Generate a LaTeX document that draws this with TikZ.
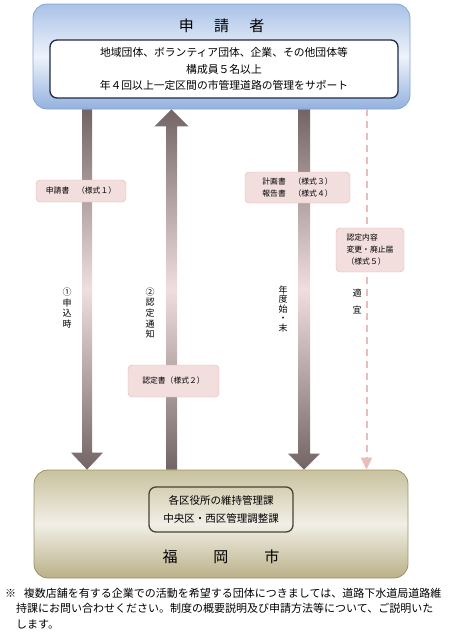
\documentclass[tikz,border=0pt]{standalone}
\usepackage{fontspec}
\setmainfont{Noto Sans CJK JP}
\usetikzlibrary{calc,arrows.meta}
\definecolor{bluetop}{HTML}{A9C2E7}
\definecolor{bluemid}{HTML}{EEF3FB}
\definecolor{bluebot}{HTML}{93B1DE}
\definecolor{blueline}{HTML}{86A4D2}
\definecolor{navy}{HTML}{1E2A44}
\definecolor{khakitop}{HTML}{C8C29E}
\definecolor{khakimid}{HTML}{F1EFE6}
\definecolor{khakibot}{HTML}{BAB088}
\definecolor{khakiline}{HTML}{9C9268}
\definecolor{olive}{HTML}{4A4431}
\definecolor{tagfill}{HTML}{F3DEDE}
\definecolor{tagline}{HTML}{DDB5B5}
\definecolor{arrowdark}{HTML}{736565}
\definecolor{arrowlight}{HTML}{F0DEDE}
\definecolor{dashpink}{HTML}{EBBCBC}
\begin{document}
\begin{tikzpicture}[x=1pt, y=-1pt,
	bigbox/.style={rounded corners=14pt, line width=0.8pt},
	innerbox/.style={draw, rounded corners=7pt, line width=1.3pt, align=center},
	tag/.style={draw=tagline, fill=tagfill, rounded corners=4pt, align=center, inner sep=2pt, font=\fontsize{7.8}{12}\selectfont},
	vlabel/.style={align=center, inner sep=0pt, font=\fontsize{9}{10.7}\selectfont},
	shaft/.style={top color=arrowdark, bottom color=arrowdark, middle color=arrowlight},
	bigtext/.style={font=\fontsize{15}{18}\selectfont}]
	\useasboundingbox (0,0) rectangle (454,640);
	% boxes
	\node[bigbox, draw=blueline, top color=bluetop, bottom color=bluebot, middle color=bluemid, minimum width=377pt, minimum height=105pt] (applicant) at (221.5,56.5) {};
	\node[bigtext] (applicanttitle) at (221.5,26) {申\hspace{1.35em}請\hspace{1.35em}者};
	\node[innerbox, draw=navy, fill=white, minimum width=348pt, minimum height=58pt, font=\fontsize{10.8}{16.5}\selectfont] (members) at (224,69) {地域団体、ボランティア団体、企業、その他団体等\\構成員５名以上\\年４回以上一定区間の市管理道路の管理をサポート};
	\node[bigbox, draw=khakiline, top color=khakitop, bottom color=khakibot, middle color=khakimid, minimum width=374pt, minimum height=108pt] (city) at (221,524) {};
	\node[innerbox, draw=olive, minimum width=144pt, minimum height=45pt, font=\fontsize{10.5}{18}\selectfont] (office) at (221,509.5) {各区役所の維持管理課\\中央区・西区管理調整課};
	\node[bigtext] (citytitle) at (221,557) {福\hspace{2.4em}岡\hspace{2.4em}市};
	% arrows
	\coordinate (x1) at (87,0);
	\coordinate (x2) at (171.5,0);
	\coordinate (x3) at (304,0);
	\coordinate (x4) at (366.5,0);
	\coordinate (t1) at (applicant.south -| x1);
	\coordinate (b1) at (city.north -| x1);
	\coordinate (t2) at (applicant.south -| x2);
	\coordinate (b2) at (city.north -| x2);
	\coordinate (t3) at (applicant.south -| x3);
	\coordinate (b3) at (city.north -| x3);
	\coordinate (t4) at (applicant.south -| x4);
	\coordinate (b4) at (city.north -| x4);
	\shade[shaft] ($(t1)+(-5,0)$) -- ($(t1)+(5,0)$) -- ($(b1)+(5,-17)$) -- ($(b1)+(16,-17)$) -- (b1) -- ($(b1)+(-16,-17)$) -- ($(b1)+(-5,-17)$) -- cycle;
	\shade[shaft] ($(b2)+(-5.5,0)$) -- ($(t2)+(-5.5,17)$) -- ($(t2)+(-17,17)$) -- (t2) -- ($(t2)+(17,17)$) -- ($(t2)+(5.5,17)$) -- ($(b2)+(5.5,0)$) -- cycle;
	\shade[shaft] ($(t3)+(-6,0)$) -- ($(t3)+(6,0)$) -- ($(b3)+(6,-16)$) -- ($(b3)+(16,-16)$) -- (b3) -- ($(b3)+(-16,-16)$) -- ($(b3)+(-6,-16)$) -- cycle;
	\draw[dashpink, line width=2pt, dash pattern=on 7pt off 5pt, -{Triangle[width=11pt,length=12pt]}] (t4) -- (b4);
	% forms
	\node[tag, minimum width=90pt, minimum height=22pt] (applyform) at (81,191) {申請書　（様式１）};
	\node[tag, minimum width=105pt, minimum height=31pt] (planform) at (297.5,187.5) {計画書　（様式３）\\報告書　（様式４）};
	\node[tag, align=left, minimum width=68pt, minimum height=44pt] (changeform) at (370,250) {認定内容\\変更・廃止届\\（様式５）};
	\node[tag, minimum width=91pt, minimum height=32pt] (certform) at (173.5,381) {認定書（様式２）};
	% timing
	\node[vlabel] (v1) at (67,308) {①\\申\\込\\時};
	\node[vlabel] (v2) at (150,313) {②\\認\\定\\通\\知};
	\node[vlabel, font=\fontsize{9}{9.5}\selectfont] (v3) at (283,309) {年\\度\\始\\・\\末};
	\node[vlabel, font=\fontsize{9}{17}\selectfont] (v4) at (357,301.5) {適\\宜};
	% note
	\node[anchor=north west, align=left, inner sep=0pt, font=\fontsize{11}{15.5}\selectfont] (note) at (5,588) {※\hspace{0.7em}複数店舗を有する企業での活動を希望する団体につきましては、道路下水道局道路維\\\hspace*{1em}持課にお問い合わせください。制度の概要説明及び申請方法等について、ご説明いた\\\hspace*{1em}します。};
\end{tikzpicture}
\end{document}
